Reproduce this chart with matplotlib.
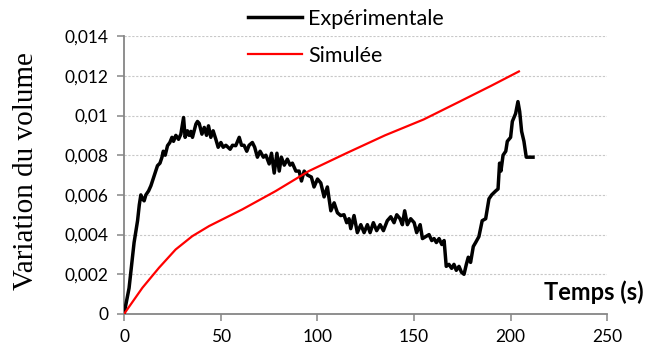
import matplotlib
matplotlib.use("Agg")
import matplotlib.pyplot as plt
from matplotlib.ticker import FixedLocator, FuncFormatter

# Experimental volume variation over time (s)
t_exp = [0, 2.6, 5.2, 7.0, 7.9, 8.7, 9.6, 10.4, 11.3, 12.7, 13.9, 14.7, 16.1, 17.3,
         18.6, 19.6, 20.3, 21.3, 22.5, 23.7, 24.8, 25.6, 26.8, 28.2, 29.4, 30.8,
         31.6, 32.8, 33.7, 34.6, 35.4, 37.2, 38.0, 38.9, 40.3, 41.5, 42.7, 43.7,
         44.9, 46.1, 47.5, 48.7, 50.1, 51.3,
         52.7, 54.9, 56.1, 57.8, 59.6, 60.8, 62.1, 63.5, 64.7, 66.4, 67.6, 69.0,
         70.4, 72.1, 73.4, 75.1, 76.3, 77.7, 79.1, 80.3, 81.4, 82.9, 84.5, 85.9,
         87.1, 88.9, 90.6, 91.8, 93.2, 94.9, 96.9, 98.3, 100.1, 101.8,
         103.5, 105.2, 107.0, 108.7, 110.4, 112.1, 113.8, 115.2, 116.4, 117.3,
         119.0, 120.7, 122.5, 124.2, 125.9, 127.3, 129.0, 130.7, 132.5, 134.2,
         136.2, 138.0, 139.7, 141.1, 142.8, 144.0, 145.2, 146.6, 148.3, 150.1,
         151.4, 153.2, 154.4, 156.1,
         157.8, 159.2, 160.4, 161.6, 163.0, 164.4, 165.6, 166.7, 168.1, 169.5,
         170.7, 171.9, 173.3, 174.6, 175.9, 177.1, 178.1, 179.3, 180.7, 181.9,
         183.6, 185.3, 187.1, 188.8, 190.2, 192.3, 193.5, 194.3, 195.0, 196.1,
         197.5, 198.3, 200.0, 200.9, 202.6, 203.8, 204.7, 205.7, 206.9, 208.1,
         211.6]
v_exp = [0, 0.0013, 0.0036, 0.0047, 0.0055, 0.0060, 0.0058, 0.0057, 0.0060, 0.0062,
         0.00646, 0.0067, 0.00713, 0.00747, 0.0076, 0.00789, 0.0082, 0.0080,
         0.00848, 0.00864, 0.0089, 0.0087, 0.0090, 0.0088, 0.00906, 0.0099,
         0.0089, 0.00923, 0.0090, 0.0092, 0.0089, 0.00957, 0.0097, 0.0096,
         0.00906, 0.0094, 0.0090, 0.00948, 0.0089, 0.00923, 0.0088, 0.0084,
         0.00864, 0.0084,
         0.0085, 0.0083, 0.0085, 0.00848, 0.0089, 0.0085, 0.0085, 0.0082, 0.0085,
         0.00864, 0.0084, 0.0079, 0.0082, 0.0079, 0.0080, 0.00756, 0.0081, 0.0071,
         0.0081, 0.0072, 0.0079, 0.0075, 0.0078, 0.0075, 0.0076, 0.0072, 0.0072,
         0.0067, 0.0072, 0.0070, 0.0069, 0.0064, 0.0068, 0.0066,
         0.0059, 0.0064, 0.0052, 0.0056, 0.0051, 0.00496, 0.0050, 0.0046, 0.0048,
         0.0043, 0.00496, 0.0041, 0.0045, 0.0041, 0.0045, 0.0041, 0.0046, 0.0042,
         0.0045, 0.0042, 0.0047, 0.0049, 0.0046, 0.0050, 0.0048, 0.0045, 0.0052,
         0.0045, 0.0048, 0.0046, 0.0041, 0.0045, 0.0038, 0.0039,
         0.0040, 0.0037, 0.0038, 0.0036, 0.0038, 0.0035, 0.0037, 0.0024, 0.0025,
         0.0023, 0.0025, 0.0022, 0.0024, 0.0021, 0.0020, 0.0025, 0.00286, 0.0026,
         0.0034, 0.0036, 0.0039, 0.0047, 0.0048, 0.0058, 0.0060, 0.0062, 0.0063,
         0.0076, 0.0072, 0.0080, 0.0082, 0.0087, 0.0089, 0.0097, 0.0101, 0.0107,
         0.0102, 0.0092, 0.0087, 0.0079, 0.0079]

# Simulated volume variation over time (s)
t_sim = [0, 9.5, 18.1, 26.7, 35.3, 44, 61.2, 78.4, 95.6, 115, 135, 155, 173.6, 190, 204.3]
v_sim = [0, 0.00132, 0.00233, 0.00325, 0.00392, 0.00443, 0.00527, 0.00619, 0.0072,
         0.0081, 0.0090, 0.0098, 0.0107, 0.0115, 0.01222]

x_ticks = [0, 50, 100, 150, 200, 250]
y_ticks = [0, 0.002, 0.004, 0.006, 0.008, 0.010, 0.012, 0.014]

label_font = "Lato"
grey = "#868686"

fig = plt.figure(figsize=(6.46, 3.54), dpi=100)
ax = fig.add_axes([0.192, 0.113, 0.748, 0.785])

ax.plot(t_exp, v_exp, color="black", lw=2.5, solid_joinstyle="round", label="Expérimentale", zorder=3)
ax.plot(t_sim, v_sim, color="#ff0000", lw=1.6, label="Simulée", zorder=4)

ax.set_xlim(0, 250)
ax.set_ylim(0, 0.014)
ax.xaxis.set_major_locator(FixedLocator(x_ticks))
ax.yaxis.set_major_locator(FixedLocator(y_ticks))


def fr_fmt(v, pos):
    s = f"{v:.3f}".rstrip("0").rstrip(".")
    return s.replace(".", ",")


ax.yaxis.set_major_formatter(FuncFormatter(fr_fmt))
ax.xaxis.set_major_formatter(FuncFormatter(lambda v, p: f"{int(v)}"))

for lbl in ax.get_xticklabels() + ax.get_yticklabels():
    lbl.set_fontfamily(label_font)
    lbl.set_fontsize(12.5)

ax.grid(axis="y", color="#c8c8c8", linestyle=(0, (2, 1.5)), lw=0.8)
ax.set_axisbelow(True)
for side in ("top", "right"):
    ax.spines[side].set_visible(False)
for side in ("left", "bottom"):
    ax.spines[side].set_color(grey)
    ax.spines[side].set_linewidth(1.3)
ax.tick_params(axis="both", direction="out", color=grey, width=1.1, length=5, pad=6)

fig.text(26 / 646, 1 - 171 / 354, "Variation du volume", family="Liberation Serif",
         fontsize=21, rotation=90, ha="center", va="center")
fig.text(0.997, 1 - 292 / 354, "Temps (s)", family=label_font, fontweight="bold",
         fontsize=17, ha="right", va="center")

leg = fig.legend(loc="upper left", bbox_to_anchor=(248 / 646, 1 - 9 / 354), frameon=False,
                 prop={"family": label_font, "size": 15.5}, handlelength=2.5,
                 labelspacing=0.78, handletextpad=0.3, borderpad=0, borderaxespad=0)

fig.savefig("out.png", dpi=100)
